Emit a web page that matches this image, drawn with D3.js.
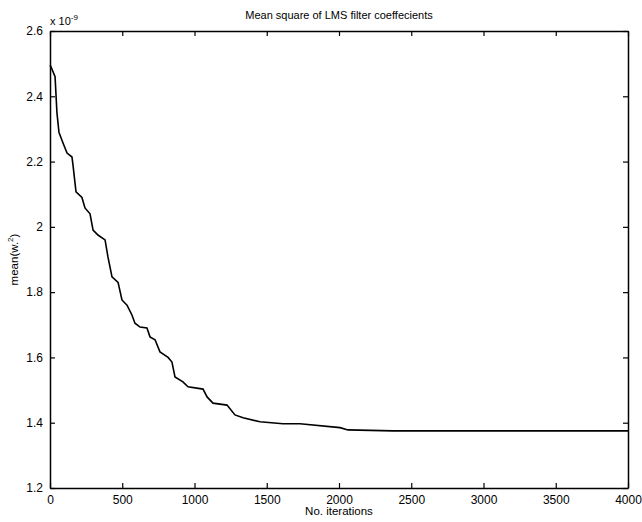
<!DOCTYPE html>
<html lang="en">
	<head>
		<meta charset="utf-8">
		<title>Mean square of LMS filter coeffecients</title>
		<script type="text/javascript" src="https://cdn.jsdelivr.net/npm/d3@7/dist/d3.min.js"></script>
		<style type="text/css">
			body { margin: 0; background: #fff; }
			text { font-family: "Liberation Sans", Arial, sans-serif; fill: #000; }
		</style>
	</head>
	<body>
		<script type="text/javascript">

			// data (values x 1e-9)
			var iterations = [0, 7, 35, 48, 62, 90, 118, 152, 159, 180, 221, 242, 277, 298, 332, 381, 401, 429, 471, 498,
				533, 567, 588, 623, 671, 692, 727, 761, 817, 844, 865, 920, 955, 1059, 1087, 1128, 1225, 1280, 1336,
				1453, 1612, 1730, 2007, 2062, 2374, 4000];
			var meanW2 = [2.495, 2.49, 2.46, 2.35, 2.29, 2.257, 2.226, 2.214, 2.19, 2.107, 2.09, 2.058, 2.04, 1.99, 1.975,
				1.96, 1.908, 1.847, 1.83, 1.776, 1.76, 1.73, 1.705, 1.693, 1.69, 1.663, 1.654, 1.617, 1.60, 1.586, 1.54,
				1.525, 1.51, 1.503, 1.479, 1.46, 1.454, 1.424, 1.415, 1.403, 1.397, 1.397, 1.385, 1.378, 1.375, 1.375];
			var xTicks = [0, 500, 1000, 1500, 2000, 2500, 3000, 3500, 4000];
			var yTicks = [1.2, 1.4, 1.6, 1.8, 2, 2.2, 2.4, 2.6];

			//Width and height
			var w = 642;
			var h = 522;
			var margin = {top: 31, right: 14, bottom: 34, left: 50};

			var svg = d3.select("body")
						.append("svg")
						.attr("width", w)
						.attr("height", h);

			var x = d3.scaleLinear()
					  .domain([0, 4000])
					  .range([margin.left, w - margin.right]);

			var y = d3.scaleLinear()
					  .domain([1.2, 2.6])
					  .range([h - margin.bottom, margin.top]);

			var fmt = function(d) { return String(+d.toFixed(1)); };

			// axes, ticks pointing inward like matlab
			var bottomAxis = d3.axisBottom(x).tickValues(xTicks).tickSizeInner(-5).tickSizeOuter(0).tickPadding(7).tickFormat(d3.format("d"));
			var topAxis = d3.axisTop(x).tickValues(xTicks).tickSizeInner(-5).tickSizeOuter(0).tickFormat("");
			var leftAxis = d3.axisLeft(y).tickValues(yTicks).tickSizeInner(-5).tickSizeOuter(0).tickPadding(7).tickFormat(fmt);
			var rightAxis = d3.axisRight(y).tickValues(yTicks).tickSizeInner(-5).tickSizeOuter(0).tickFormat("");

			svg.append("g").attr("transform", "translate(0," + (h - margin.bottom) + ")").call(bottomAxis);
			svg.append("g").attr("transform", "translate(0," + margin.top + ")").call(topAxis);
			svg.append("g").attr("transform", "translate(" + margin.left + ",0)").call(leftAxis);
			svg.append("g").attr("transform", "translate(" + (w - margin.right) + ",0)").call(rightAxis);

			svg.selectAll(".domain").attr("stroke", "#000").attr("stroke-width", 1.5);
			svg.selectAll(".tick line").attr("stroke", "#000").attr("stroke-width", 1.2);
			svg.selectAll(".tick text").style("font-size", "12px").attr("fill", "#000");

			// curve
			var line = d3.line()
						 .x(function(d, i) { return x(iterations[i]); })
						 .y(function(d) { return y(d); });

			svg.append("path")
			   .datum(meanW2)
			   .attr("d", line)
			   .attr("fill", "none")
			   .attr("stroke", "#000")
			   .attr("stroke-width", 1.6);

			// title and labels
			svg.append("text")
			   .attr("x", (margin.left + w - margin.right) / 2)
			   .attr("y", 19)
			   .attr("text-anchor", "middle")
			   .style("font-size", "11px")
			   .text("Mean square of LMS filter coeffecients");

			svg.append("text")
			   .attr("x", (margin.left + w - margin.right) / 2)
			   .attr("y", 515)
			   .attr("text-anchor", "middle")
			   .style("font-size", "11.5px")
			   .text("No. iterations");

			var yl = svg.append("text")
			   .attr("transform", "translate(18," + ((margin.top + h - margin.bottom) / 2) + ") rotate(-90)")
			   .attr("text-anchor", "middle")
			   .style("font-size", "11.5px");
			yl.append("tspan").text("mean(w.");
			yl.append("tspan").attr("dy", -5).style("font-size", "8px").text("2");
			yl.append("tspan").attr("dy", 5).text(")");

			// exponent
			var ex = svg.append("text")
			   .attr("x", margin.left)
			   .attr("y", 25)
			   .style("font-size", "11px");
			ex.append("tspan").text("x 10");
			ex.append("tspan").attr("dy", -5).style("font-size", "8px").text("-9");

		</script>
	</body>
</html>
